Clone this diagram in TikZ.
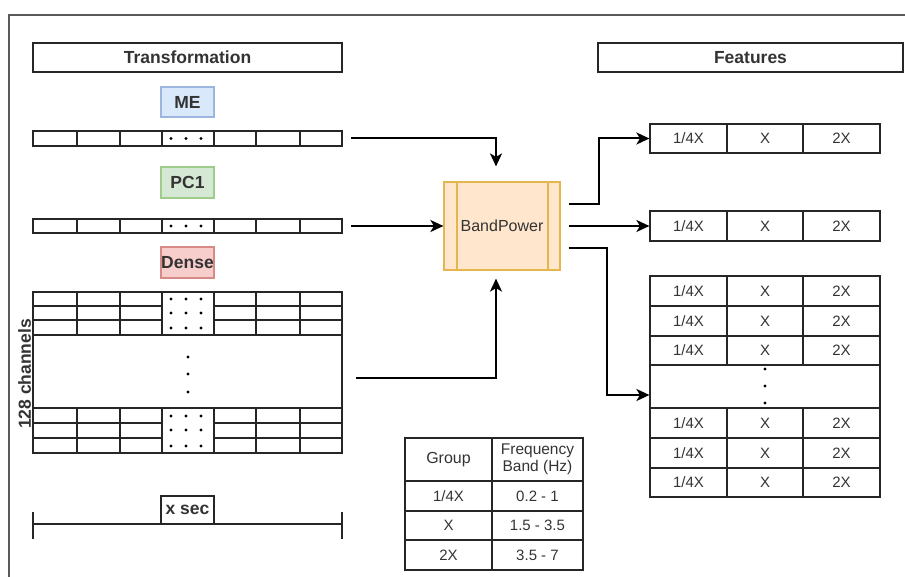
\documentclass[tikz,border=0pt]{standalone}
\usepackage{fontspec}
\setmainfont{Liberation Sans}
\usetikzlibrary{arrows.meta,calc}
\definecolor{mefill}{HTML}{DAE8FC}
\definecolor{medraw}{HTML}{9DB6DD}
\definecolor{pcfill}{HTML}{D5E8D4}
\definecolor{pcdraw}{HTML}{9FCB8C}
\definecolor{dnfill}{HTML}{F8CECC}
\definecolor{dndraw}{HTML}{D88A87}
\definecolor{bpfill}{HTML}{FFE6CC}
\definecolor{bpdraw}{HTML}{E5B64E}
\definecolor{txtgray}{HTML}{333333}
\begin{document}
\begin{tikzpicture}[x=1pt,y=-1pt]
\tikzset{
  bx/.style={draw=black!85, line width=1.2pt, rectangle, inner sep=0pt},
  cell/.style={draw=black!85, line width=1.2pt},
  lbl/.style={font=\fontsize{17.5}{20}\selectfont\bfseries, text=txtgray},
  sml/.style={font=\fontsize{15}{17}\selectfont, text=txtgray},
  arr/.style={line width=2pt, -{Stealth[length=13pt,width=12pt,inset=3.5pt]}}
}
\useasboundingbox (0,0) rectangle (905,577);
% outer frame
\draw[black!65, line width=1.3pt] (905,15) -- (9,15) -- (9,577);

% ---------- left column ----------
\node[bx, minimum width=309pt, minimum height=29pt, lbl] (trans) at (187.5,57.5) {Transformation};
\node[bx, draw=medraw, fill=mefill, minimum width=53pt, minimum height=30pt, lbl] (me) at (187.5,102) {ME};
\node[bx, minimum width=309pt, minimum height=15pt] (mebar) at (187.5,138.5) {};
\foreach \x in {77,120,162,214,256,300} \draw[cell] (\x,131) -- (\x,146);
\foreach \x in {171,186,201} \fill (\x,138.5) circle (1.6pt);

\node[bx, draw=pcdraw, fill=pcfill, minimum width=53pt, minimum height=31pt, lbl] (pc) at (187.5,182.5) {PC1};
\node[bx, minimum width=309pt, minimum height=14pt] (pcbar) at (187.5,226) {};
\foreach \x in {77,120,162,214,256,300} \draw[cell] (\x,219) -- (\x,233);
\foreach \x in {171,186,201} \fill (\x,226) circle (1.6pt);

\node[bx, draw=dndraw, fill=dnfill, minimum width=53pt, minimum height=31pt, lbl] (dn) at (187.5,262.5) {Dense};
\node[bx, minimum width=309pt, minimum height=161pt] (dense) at (187.5,372.5) {};
\draw[cell] (33,335) -- (342,335) (33,408) -- (342,408);
\foreach \y in {306,320,423,438} {\draw[cell] (33,\y) -- (162,\y) (214,\y) -- (342,\y);}
\foreach \x in {77,120,162,214,256,300} {\draw[cell] (\x,292) -- (\x,335) (\x,408) -- (\x,453);}
\foreach \x in {171,186,201} {\foreach \y in {299,313,328,416,430,446} {\fill (\x,\y) circle (1.6pt);}}
\foreach \y in {357,374,392} \fill (188,\y) circle (1.6pt);
\node[rotate=90, lbl] (ch) at (24.5,374) {128 channels};

\node[bx, minimum width=53pt, minimum height=28pt, lbl] (xsec) at (187.5,510) {x sec};
\coordinate (sl) at (33,524);
\coordinate (sr) at (342,524);
\draw[cell] (sl) -- (sr) (33,512) -- (33,539) (342,512) -- (342,539);

% ---------- BandPower ----------
\node[bx, draw=bpdraw, fill=bpfill, minimum width=116pt, minimum height=88pt, font=\fontsize{16}{18}\selectfont, text=txtgray] (bp) at (502,226) {BandPower};
\draw[bpdraw, line width=1.2pt] (457,182) -- (457,270) (548,182) -- (548,270);

% ---------- table ----------
\node[bx, minimum width=178pt, minimum height=132pt] (tab) at (494,504) {};
\draw[cell] (492,438) -- (492,570);
\foreach \y in {481,511,540} \draw[cell] (405,\y) -- (583,\y);
\node[font=\fontsize{16}{18}\selectfont, text=txtgray] (tg) at (448.5,459.5) {Group};
\node[font=\fontsize{15.5}{17}\selectfont, align=center, text=txtgray] (tf) at (537.5,459.5) {Frequency\\Band (Hz)};
\node[sml] (t1a) at (448.5,496) {1/4X};
\node[sml] (t1b) at (537.5,496) {0.2 - 1};
\node[sml] (t2a) at (448.5,525.5) {X};
\node[sml] (t2b) at (537.5,525.5) {1.5 - 3.5};
\node[sml] (t3a) at (448.5,555) {2X};
\node[sml] (t3b) at (537.5,555) {3.5 - 7};

% ---------- features ----------
\node[bx, minimum width=305pt, minimum height=29pt, lbl] (feat) at (750.5,57.5) {Features};

\node[bx, minimum width=230pt, minimum height=29pt] (f1) at (765,138.5) {};
\draw[cell] (727,124) -- (727,153) (803,124) -- (803,153);
\node[sml] at (688.5,138.5) {1/4X};
\node[sml] at (765,138.5) {X};
\node[sml] at (841.5,138.5) {2X};

\node[bx, minimum width=230pt, minimum height=30pt] (f2) at (765,226) {};
\draw[cell] (727,211) -- (727,241) (803,211) -- (803,241);
\node[sml] at (688.5,226) {1/4X};
\node[sml] at (765,226) {X};
\node[sml] at (841.5,226) {2X};

\node[bx, minimum width=230pt, minimum height=221pt] (fbig) at (765,386.5) {};
\foreach \y in {306,336,365,408,438,468} \draw[cell] (650,\y) -- (880,\y);
\draw[cell] (727,276) -- (727,365) (803,276) -- (803,365) (727,408) -- (727,497) (803,408) -- (803,497);
\foreach \y in {291,321,350.5,423,453,482.5} {
  \node[sml] at (688.5,\y) {1/4X};
  \node[sml] at (765,\y) {X};
  \node[sml] at (841.5,\y) {2X};
}
\foreach \y in {369,386,403} \fill (765,\y) circle (1.6pt);

% ---------- connectors ----------
\draw[arr] ([xshift=8pt]mebar.east) -| ([xshift=-6pt,yshift=15pt]bp.north);
\draw[arr] ([xshift=8pt]pcbar.east) -- (bp.west);
\draw[arr] ([xshift=13pt,yshift=-5.5pt]dense.east) -| ([xshift=-6pt,yshift=-8pt]bp.south);
\draw[arr] ([xshift=8pt,yshift=22pt]bp.east) -- ++(30,0) |- (f1.west);
\draw[arr] ([xshift=8pt]bp.east) -- (f2.west);
\draw[arr] ([xshift=8pt,yshift=-22pt]bp.east) -- ++(38,0) |- ([yshift=-8.5pt]fbig.west);
\end{tikzpicture}
\end{document}
